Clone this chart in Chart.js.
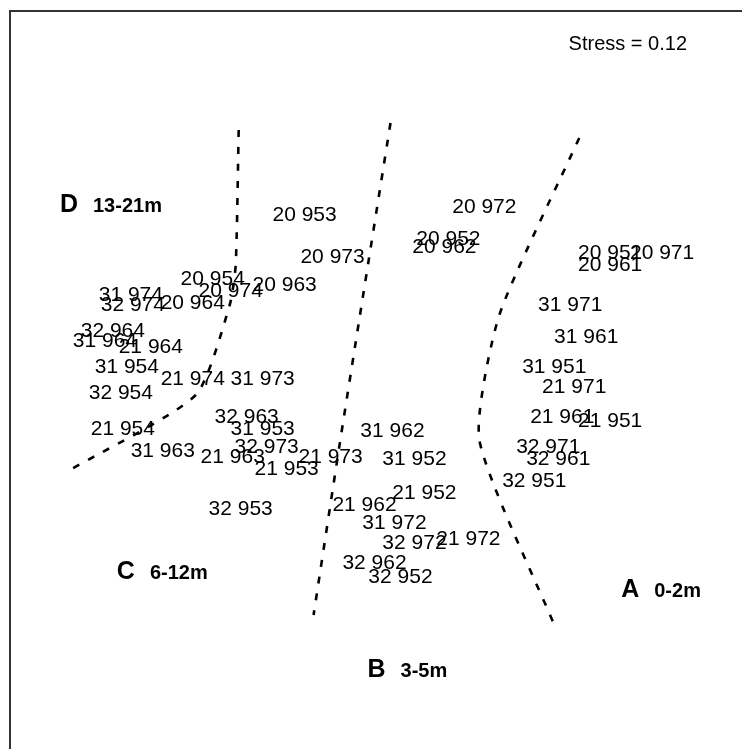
<!DOCTYPE html>
<html>
<head>
<meta charset="utf-8">
<script src="https://cdn.jsdelivr.net/npm/chart.js@4/dist/chart.umd.min.js"></script>
<style>
  html, body { margin: 0; padding: 0; background: #fff; overflow: hidden; }
  #plot { display: block; }
</style>
</head>
<body>
<canvas id="plot" width="742" height="749"></canvas>
<script>
// sample labels (depth code + site code) with their NMDS scores
const siteLabels = [
  '20 953', '20 973', '20 954', '20 974', '20 963', '31 974', '32 974', '20 964',
  '32 964', '31 964', '21 964', '31 954', '21 974', '31 973', '32 954', '32 963',
  '31 953', '21 954', '31 963', '32 973', '21 963', '21 953', '21 973', '32 953',
  '31 962', '31 952', '21 952', '21 962', '31 972', '32 972', '21 972', '32 962',
  '32 952', '20 972', '20 952', '20 962', '20 951', '20 971', '20 961', '31 971',
  '31 961', '31 951', '21 971', '21 961', '21 951', '32 971', '32 961', '32 951'
];
const nmds1 = [
  -0.35, -0.21, -0.81, -0.72, -0.45, -1.22, -1.21, -0.91,
  -1.31, -1.35, -1.12, -1.24, -0.91, -0.56, -1.27, -0.64,
  -0.56, -1.26, -1.06, -0.54, -0.71, -0.44, -0.22, -0.67,
  0.09, 0.20, 0.25, -0.05, 0.10, 0.20, 0.47, 0.00,
  0.13, 0.55, 0.37, 0.35, 1.18, 1.44, 1.18, 0.98,
  1.06, 0.90, 1.00, 0.94, 1.18, 0.87, 0.92, 0.80
];
const nmds2 = [
  0.81, 0.60, 0.49, 0.43, 0.46, 0.41, 0.36, 0.37,
  0.23, 0.18, 0.15, 0.05, -0.01, -0.01, -0.08, -0.20,
  -0.26, -0.26, -0.37, -0.35, -0.40, -0.46, -0.40, -0.66,
  -0.27, -0.41, -0.58, -0.64, -0.73, -0.83, -0.81, -0.93,
  -1.00, 0.85, 0.69, 0.65, 0.62, 0.62, 0.56, 0.36,
  0.20, 0.05, -0.05, -0.20, -0.22, -0.35, -0.41, -0.52
];

// hand drawn group boundaries
const lineDCx = [-0.68, -0.695, -0.725, -0.895, -1.525];
const lineDCy = [1.225, 0.55, 0.35, -0.10, -0.475];
const lineCBx = [0.08, -0.075, -0.175, -0.305];
const lineCBy = [1.26, 0.285, -0.35, -1.20];
const lineBAx = [1.025, 0.625, 0.525, 0.90];
const lineBAy = [1.185, 0.30, -0.325, -1.25];

// depth groups
const groupLetters = ['A', 'B', 'C', 'D'];
const groupRanges = ['0-2m', '3-5m', '6-12m', '13-21m'];
const groupX = [1.235, -0.035, -1.29, -1.575];
const groupY = [-1.065, -1.465, -0.975, 0.86];

const stressText = 'Stress = 0.12';

const toPts = (xs, ys) => xs.map((x, i) => ({ x: x, y: ys[i] }));

const boundary = (xs, ys) => ({
    data: toPts(xs, ys),
    showLine: true,
    borderColor: '#000',
    borderWidth: 2.6,
    borderDash: [7, 10],
    pointRadius: 0,
    fill: false,
    tension: 0.2
});

// draws the sample names, group tags, stress value and the frame
const textPlugin = {
    id: 'nmdsText',
    afterDatasetsDraw(chart) {
        const ctx = chart.ctx;
        const sx = chart.scales.x;
        const sy = chart.scales.y;
        const area = chart.chartArea;
        ctx.save();
        ctx.fillStyle = '#000';
        ctx.textBaseline = 'alphabetic';

        ctx.font = '21px "Liberation Sans", Arial, sans-serif';
        ctx.textAlign = 'center';
        siteLabels.forEach((lab, i) => {
            ctx.fillText(lab, sx.getPixelForValue(nmds1[i]), sy.getPixelForValue(nmds2[i]) + 7.5);
        });

        ctx.textAlign = 'left';
        groupLetters.forEach((g, i) => {
            const px = sx.getPixelForValue(groupX[i]);
            const py = sy.getPixelForValue(groupY[i]) + 9;
            ctx.font = 'bold 25px "Liberation Sans", Arial, sans-serif';
            ctx.fillText(g, px, py);
            const w = ctx.measureText(g).width;
            ctx.font = 'bold 20px "Liberation Sans", Arial, sans-serif';
            ctx.fillText(groupRanges[i], px + w + 15, py);
        });

        ctx.font = '20px "Liberation Sans", Arial, sans-serif';
        ctx.textAlign = 'right';
        ctx.fillText(stressText, area.right - 55, area.top + 39);

        // frame (right and bottom sides fall outside the window)
        ctx.strokeStyle = '#333';
        ctx.lineWidth = 2;
        ctx.strokeRect(area.left, area.top, area.right - area.left + 20, area.bottom - area.top + 20);
        ctx.restore();
    }
};

new Chart(document.getElementById('plot'), {
    type: 'scatter',
    data: {
        datasets: [
            boundary(lineDCx, lineDCy),
            boundary(lineCBx, lineCBy),
            boundary(lineBAx, lineBAy)
        ]
    },
    options: {
        responsive: false,
        animation: false,
        layout: { padding: { left: 10, top: 11, right: 0, bottom: 0 } },
        plugins: {
            legend: { display: false },
            tooltip: { enabled: false }
        },
        scales: {
            x: { type: 'linear', display: false, min: -1.825, max: 1.84 },
            y: { type: 'linear', display: false, min: -1.87, max: 1.82 }
        }
    },
    plugins: [textPlugin]
});
</script>
</body>
</html>
